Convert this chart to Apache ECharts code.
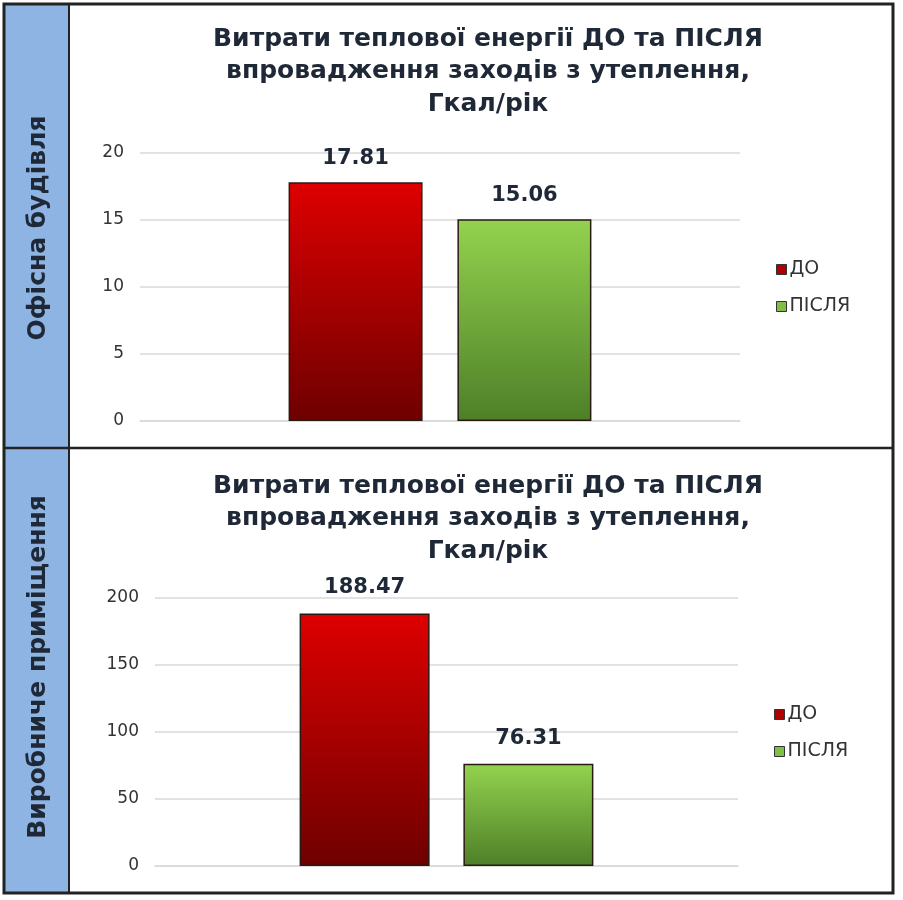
<!DOCTYPE html>
<html>
<head>
<meta charset="utf-8">
<title></title>
<script src="https://cdn.jsdelivr.net/npm/echarts@6/dist/echarts.min.js"></script>
<style type="text/css">
	body{ margin:0; background:#fff; }
	div#chart{ width:903px; height:900px; }
</style>
</head>
<body>
<div id="chart"></div>
<script type="text/javascript">
// дані
var categories = [''];
var seriesNames = ['ДО', 'ПІСЛЯ'];
var officeValues = [17.81, 15.06];
var industrialValues = [188.47, 76.31];
var panelNames = ['Офісна будівля', 'Виробниче приміщення'];
var titleText = 'Витрати теплової енергії ДО та ПІСЛЯ\nвпровадження заходів з утеплення,\nГкал/рік';
var officeAxis = [0, 20, 5];       // min, max, interval
var industrialAxis = [0, 200, 50];

var font = '"DejaVu Sans", sans-serif';
var dark = '#1f2836';

function grad(top, bottom) {
	return new echarts.graphic.LinearGradient(0, 0, 0, 1, [
		{offset: 0, color: top},
		{offset: 1, color: bottom}
	]);
}
var fills = [grad('#de0000', '#6e0000'), grad('#93d34e', '#4e7f28')];
var legendColors = ['#b00000', '#7fbf45'];

function makeSeries(values, idx, width, dist) {
	return values.map(function (v, i) {
		return {
			name: seriesNames[i],
			type: 'bar',
			xAxisIndex: idx,
			yAxisIndex: idx,
			data: [v],
			barWidth: width,
			barGap: '26%',
			itemStyle: {color: fills[i], borderColor: '#2a1a14', borderWidth: 1.5},
			label: {
				show: true,
				position: 'top',
				distance: dist,
				fontFamily: font,
				fontWeight: 'bold',
				fontSize: 21,
				color: dark,
				formatter: function (p) { return p.value.toFixed(2); }
			}
		};
	});
}

function makeY(idx, a) {
	return {
		gridIndex: idx,
		type: 'value',
		min: a[0], max: a[1], interval: a[2],
		axisLine: {show: false},
		axisTick: {show: false},
		axisLabel: {color: '#333', fontFamily: font, fontSize: 17, margin: 16},
		splitLine: {lineStyle: {color: '#d9d9d9', width: 1.5}}
	};
}
function makeX(idx) {
	return {
		gridIndex: idx,
		type: 'category',
		data: categories,
		axisLine: {lineStyle: {color: '#d9d9d9', width: 1.5}},
		axisTick: {show: false},
		axisLabel: {show: false}
	};
}
function legendData() {
	return seriesNames.map(function (n, i) {
		return {name: n, itemStyle: {color: legendColors[i], borderColor: '#333', borderWidth: 1}};
	});
}
function makeLegend(top, left) {
	return {
		orient: 'vertical', top: top, left: left,
		icon: 'rect', itemWidth: 10, itemHeight: 10, itemGap: 18,
		data: legendData(),
		textStyle: {fontFamily: font, fontSize: 19, color: '#333', padding: [0, 0, 0, -2]}
	};
}
function makeTitle(top) {
	return {
		text: titleText, left: 483, top: top, textAlign: 'center',
		textStyle: {fontFamily: font, fontWeight: 'bold', fontSize: 25, lineHeight: 32.5, color: dark}
	};
}

var myChart = echarts.init(document.getElementById('chart'));
var option = {
	animation: false,
	title: [makeTitle(18), makeTitle(465)],
	legend: [makeLegend(255, 771), makeLegend(700, 769)],
	grid: [
		{left: 140, right: 163, top: 153, bottom: 479},
		{left: 155, right: 165, top: 598, bottom: 34}
	],
	xAxis: [makeX(0), makeX(1)],
	yAxis: [makeY(0, officeAxis), makeY(1, industrialAxis)],
	series: makeSeries(officeValues, 0, 134, 13).concat(makeSeries(industrialValues, 1, 130, 15)),
	graphic: [
		{type: 'rect', shape: {x: 4, y: 4, width: 65, height: 889}, style: {fill: '#8db4e2'}, z: -1},
		{type: 'rect', shape: {x: 4, y: 4, width: 889, height: 889}, style: {fill: null, stroke: '#222', lineWidth: 3}},
		{type: 'line', shape: {x1: 69, y1: 4, x2: 69, y2: 893}, style: {stroke: '#222', lineWidth: 2}},
		{type: 'line', shape: {x1: 4, y1: 448, x2: 893, y2: 448}, style: {stroke: '#222', lineWidth: 2.5}},
		{type: 'text', x: 38, y: 228, rotation: Math.PI / 2,
			style: {text: panelNames[0], font: 'bold 25px ' + font, fill: dark, textAlign: 'center', textVerticalAlign: 'middle'}},
		{type: 'text', x: 38, y: 667, rotation: Math.PI / 2,
			style: {text: panelNames[1], font: 'bold 25px ' + font, fill: dark, textAlign: 'center', textVerticalAlign: 'middle'}}
	]
};
myChart.setOption(option);
</script>
</body>
</html>
